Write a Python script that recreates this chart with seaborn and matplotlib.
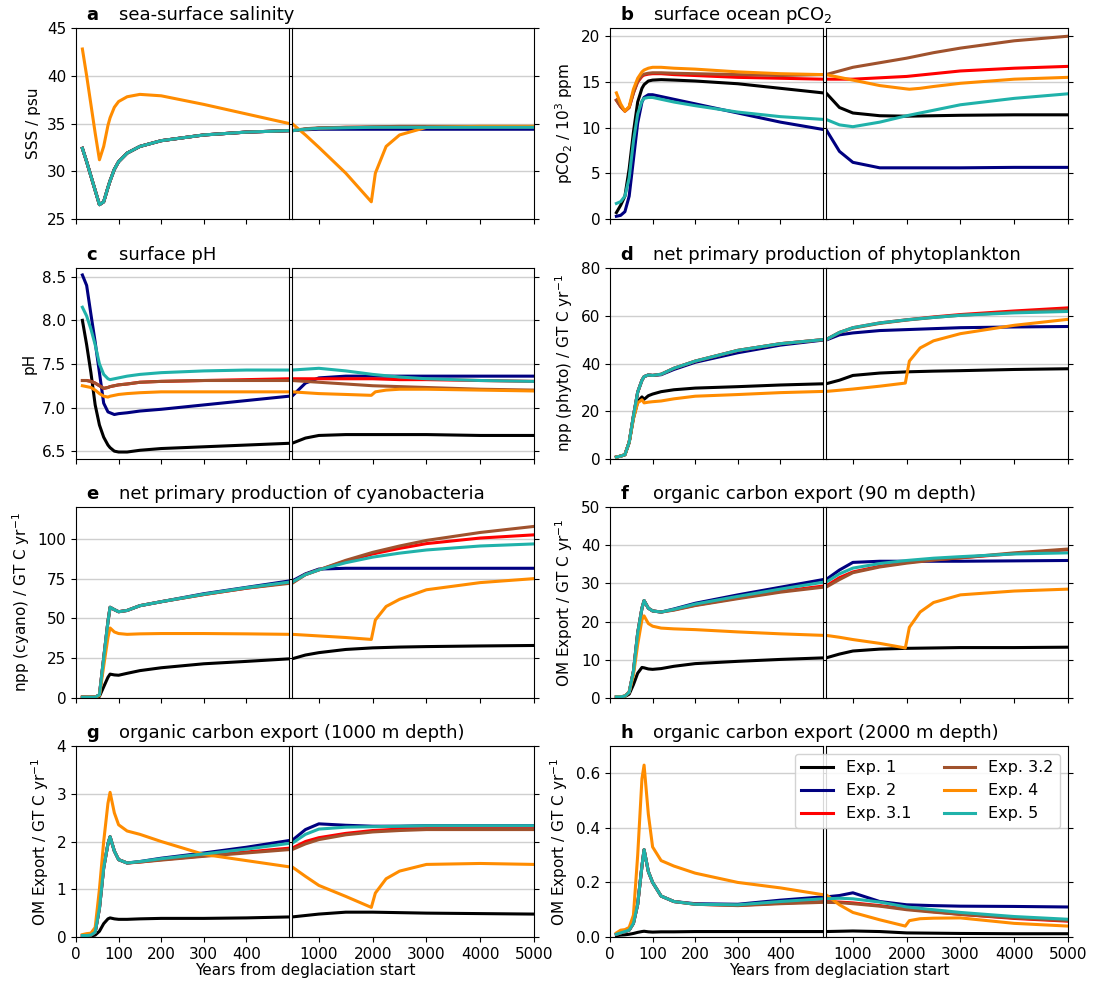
import matplotlib
matplotlib.use("Agg")
import matplotlib.pyplot as plt
import seaborn as sns

# time grids (years from deglaciation start)
t_main = [15, 25, 35, 45, 55, 65, 75, 80, 90, 100, 120, 150, 200, 300, 400, 500,
          750, 1000, 1500, 2000, 2500, 3000, 4000, 5000]
t_exp4 = [15, 25, 35, 45, 55, 65, 75, 80, 90, 100, 120, 150, 200, 300, 400, 500,
          750, 1000, 1500, 1975, 2050, 2250, 2500, 3000, 4000, 5000]

exp_labels = ["Exp. 1", "Exp. 2", "Exp. 3.1", "Exp. 3.2", "Exp. 4", "Exp. 5"]
exp_colors = ["black", "navy", "red", "sienna", "darkorange", "lightseagreen"]

# a) sea-surface salinity
sss_1 = [32.4, 31.0, 29.5, 28.0, 26.5, 26.8, 28.3, 29.0, 30.2, 31.0, 31.9, 32.6, 33.2, 33.8, 34.1, 34.25,
         34.4, 34.5, 34.55, 34.6, 34.6, 34.6, 34.6, 34.6]
sss_2 = [32.4, 31.0, 29.5, 28.0, 26.5, 26.8, 28.3, 29.0, 30.2, 31.0, 31.9, 32.6, 33.2, 33.8, 34.1, 34.25,
         34.35, 34.4, 34.4, 34.4, 34.4, 34.4, 34.4, 34.4]
sss_31 = [32.4, 31.0, 29.5, 28.0, 26.5, 26.8, 28.3, 29.0, 30.2, 31.0, 31.9, 32.6, 33.2, 33.8, 34.1, 34.25,
          34.4, 34.5, 34.6, 34.6, 34.65, 34.65, 34.65, 34.65]
sss_32 = [32.4, 31.0, 29.5, 28.0, 26.5, 26.8, 28.3, 29.0, 30.2, 31.0, 31.9, 32.6, 33.2, 33.8, 34.1, 34.25,
          34.45, 34.55, 34.6, 34.65, 34.7, 34.7, 34.7, 34.7]
sss_4 = [42.8, 40.0, 37.0, 34.0, 31.2, 32.6, 34.8, 35.6, 36.7, 37.3, 37.8, 38.05, 37.9, 37.0, 36.0, 35.0,
         33.8, 32.5, 29.8, 26.8, 29.8, 32.6, 33.8, 34.6, 34.7, 34.7]
sss_5 = [32.4, 31.0, 29.5, 28.0, 26.5, 26.8, 28.3, 29.0, 30.2, 31.0, 31.9, 32.6, 33.2, 33.8, 34.1, 34.25,
         34.4, 34.5, 34.55, 34.6, 34.6, 34.6, 34.6, 34.6]

# b) surface ocean pCO2 (10^3 ppm)
pco2_1 = [0.7, 1.5, 2.5, 5.5, 9.5, 12.8, 14.3, 14.7, 15.1, 15.2, 15.25, 15.2, 15.1, 14.8, 14.3, 13.8,
          12.2, 11.6, 11.3, 11.25, 11.3, 11.35, 11.4, 11.4]
pco2_2 = [0.3, 0.4, 0.8, 2.5, 6.5, 10.5, 12.8, 13.3, 13.6, 13.6, 13.4, 13.1, 12.6, 11.6, 10.6, 9.8,
          7.4, 6.2, 5.6, 5.6, 5.6, 5.6, 5.65, 5.65]
pco2_31 = [13.0, 12.3, 11.8, 12.2, 13.8, 15.0, 15.6, 15.75, 15.85, 15.9, 15.9, 15.8, 15.7, 15.5, 15.4, 15.3,
           15.3, 15.3, 15.45, 15.6, 15.9, 16.2, 16.5, 16.7]
pco2_32 = [13.0, 12.3, 11.8, 12.2, 13.8, 15.1, 15.7, 15.85, 15.95, 16.0, 16.0, 15.95, 15.9, 15.8, 15.7, 15.8,
           16.2, 16.6, 17.1, 17.6, 18.2, 18.7, 19.5, 20.0]
pco2_4 = [13.8, 12.6, 11.8, 12.3, 14.2, 15.4, 16.1, 16.3, 16.5, 16.6, 16.6, 16.5, 16.4, 16.1, 15.9, 15.8,
          15.5, 15.2, 14.6, 14.25, 14.2, 14.3, 14.5, 14.85, 15.3, 15.5]
pco2_5 = [1.7, 1.9, 2.5, 4.5, 8.5, 11.5, 12.9, 13.2, 13.3, 13.3, 13.1, 12.8, 12.4, 11.7, 11.2, 10.9,
          10.3, 10.1, 10.6, 11.3, 11.9, 12.5, 13.2, 13.7]

# c) surface pH
ph_1 = [8.0, 7.72, 7.4, 7.03, 6.8, 6.66, 6.57, 6.54, 6.5, 6.49, 6.49, 6.51, 6.53, 6.55, 6.57, 6.59,
        6.65, 6.68, 6.69, 6.69, 6.69, 6.69, 6.68, 6.68]
ph_2 = [8.52, 8.4, 8.07, 7.75, 7.4, 7.05, 6.95, 6.94, 6.92, 6.93, 6.94, 6.96, 6.98, 7.03, 7.08, 7.13,
        7.28, 7.34, 7.36, 7.36, 7.36, 7.36, 7.36, 7.36]
ph_31 = [7.31, 7.31, 7.30, 7.28, 7.25, 7.22, 7.23, 7.24, 7.25, 7.26, 7.27, 7.29, 7.30, 7.31, 7.32, 7.33,
         7.33, 7.33, 7.33, 7.33, 7.32, 7.32, 7.31, 7.30]
ph_32 = [7.31, 7.31, 7.30, 7.28, 7.25, 7.22, 7.23, 7.24, 7.25, 7.26, 7.27, 7.29, 7.30, 7.31, 7.31, 7.31,
         7.30, 7.29, 7.27, 7.25, 7.24, 7.23, 7.21, 7.20]
ph_4 = [7.25, 7.24, 7.23, 7.2, 7.16, 7.13, 7.12, 7.13, 7.14, 7.15, 7.16, 7.17, 7.18, 7.18, 7.18, 7.18,
        7.17, 7.16, 7.15, 7.14, 7.18, 7.2, 7.21, 7.21, 7.2, 7.19]
ph_5 = [8.15, 8.05, 7.9, 7.72, 7.5, 7.38, 7.33, 7.32, 7.33, 7.34, 7.36, 7.38, 7.40, 7.42, 7.43, 7.43,
        7.44, 7.45, 7.42, 7.38, 7.35, 7.33, 7.31, 7.30]

# d) npp phytoplankton (GT C / yr)
phy_1 = [0.8, 1.2, 1.8, 7, 17, 24, 26, 25, 26.5, 27.2, 28.2, 29, 29.7, 30.3, 31, 31.5,
         33, 35, 36, 36.5, 36.8, 37, 37.5, 37.8]
phy_2 = [0.8, 1.2, 1.8, 7, 18, 28, 33, 34.5, 35.2, 35, 35.3, 37.5, 40.5, 44.5, 47.7, 49.8,
         52, 52.8, 53.8, 54.2, 54.6, 55, 55.3, 55.5]
phy_31 = [0.8, 1.2, 1.8, 7, 18, 28, 33, 34.5, 35.2, 35, 35.5, 38, 41, 45.5, 48.3, 50,
          53, 55, 57, 58.3, 59.5, 60.5, 62, 63.3]
phy_32 = [0.8, 1.2, 1.8, 7, 18, 28, 33, 34.5, 35.2, 35, 35.5, 38, 41, 45.5, 48.3, 50,
          53, 54.8, 56.8, 58.2, 59.3, 60.2, 61.5, 62.5]
phy_4 = [0.8, 1.2, 1.8, 7, 17, 23.5, 24.8, 23.5, 23.8, 24, 24.3, 25.2, 26.3, 27, 27.8, 28.3,
         28.8, 29.3, 30.5, 31.8, 41, 46.5, 49.5, 52.5, 56, 58.5]
phy_5 = [0.8, 1.2, 1.8, 7, 18, 28, 33, 34.5, 35.2, 35, 35.5, 38, 41, 45.5, 48.3, 50,
         53, 55, 57, 58.3, 59.3, 60.2, 61.2, 61.8]

# e) npp cyanobacteria (GT C / yr)
cya_1 = [0.5, 0.5, 0.5, 0.5, 1, 7, 13, 15, 14.5, 14.3, 15.5, 17.2, 19, 21.5, 23, 24.6,
         27, 28.5, 30.5, 31.5, 32, 32.3, 32.7, 33]
cya_2 = [0.5, 0.5, 0.5, 0.5, 2, 25, 48, 57, 55.5, 54.2, 55, 58, 60.5, 65.5, 69.5, 73.5,
         78, 81, 81.5, 81.5, 81.5, 81.5, 81.5, 81.5]
cya_31 = [0.5, 0.5, 0.5, 0.5, 2, 25, 48, 57, 55.5, 54.2, 55, 58, 60.5, 65, 69, 72.5,
          77.5, 80.5, 86, 90.5, 94, 97, 100.5, 102.5]
cya_32 = [0.5, 0.5, 0.5, 0.5, 2, 25, 48, 57, 55.5, 54.2, 55, 58, 60.5, 65, 69, 72.0,
          77.5, 80.5, 86.5, 91.5, 95.5, 99, 104, 107.8]
cya_4 = [0.5, 0.5, 0.5, 0.5, 1.5, 20, 38, 44, 41.5, 40.5, 40, 40.3, 40.5, 40.5, 40.3, 40,
         39.5, 39, 38, 36.8, 49, 57.5, 62, 68, 72.5, 75]
cya_5 = [0.5, 0.5, 0.5, 0.5, 2, 25, 48, 57, 55.5, 54.2, 55, 58, 60.5, 65.2, 69.3, 72.8,
         77.5, 80.5, 85, 88.5, 91, 93, 95.5, 96.8]

# f) organic carbon export at 90 m
ex90_1 = [0.3, 0.3, 0.4, 1, 3.5, 6.5, 8, 7.9, 7.6, 7.5, 7.7, 8.3, 9.0, 9.6, 10.1, 10.5,
          11.5, 12.3, 12.8, 13, 13.1, 13.2, 13.2, 13.3]
ex90_2 = [0.3, 0.3, 0.5, 1.5, 7, 17, 23.5, 25.5, 23.5, 22.8, 22.5, 23.3, 24.8, 27, 29, 31,
          33.5, 35.5, 35.8, 35.8, 35.8, 35.8, 35.9, 36]
ex90_31 = [0.3, 0.3, 0.5, 1.5, 7, 17, 23.5, 25.5, 23.5, 22.8, 22.5, 23.1, 24.3, 26.2, 27.9, 29.3,
           31.5, 33, 34.5, 35.5, 36.2, 36.7, 37.8, 38.8]
ex90_32 = [0.3, 0.3, 0.5, 1.5, 7, 17, 23.5, 25.5, 23.5, 22.8, 22.5, 23.0, 24.2, 26.0, 27.7, 29.0,
           31, 32.8, 34.3, 35.3, 36.1, 36.7, 38, 39]
ex90_4 = [0.3, 0.3, 0.5, 1.5, 6, 14, 20.5, 21.5, 19.5, 18.8, 18.3, 18.1, 17.9, 17.3, 16.8, 16.4,
          15.9, 15.3, 14.3, 13.1, 18.5, 22.5, 25, 27, 28, 28.5]
ex90_5 = [0.3, 0.3, 0.5, 1.5, 7, 17, 23.5, 25.5, 23.5, 22.8, 22.5, 23.2, 24.6, 26.6, 28.5, 30.3,
          32.5, 34, 35.2, 36, 36.6, 37, 37.7, 38]

# g) organic carbon export at 1000 m
ex1000_1 = [0.02, 0.02, 0.02, 0.04, 0.12, 0.28, 0.38, 0.4, 0.38, 0.37, 0.37, 0.38, 0.39, 0.39, 0.40, 0.42,
            0.45, 0.48, 0.52, 0.52, 0.51, 0.5, 0.49, 0.48]
ex1000_2 = [0.03, 0.03, 0.04, 0.1, 0.6, 1.45, 1.95, 2.1, 1.8, 1.62, 1.55, 1.58, 1.65, 1.76, 1.88, 2.02,
            2.25, 2.37, 2.34, 2.32, 2.32, 2.33, 2.33, 2.33]
ex1000_31 = [0.03, 0.03, 0.04, 0.1, 0.6, 1.45, 1.95, 2.1, 1.8, 1.62, 1.55, 1.57, 1.62, 1.7, 1.78, 1.86,
             2.0, 2.08, 2.17, 2.23, 2.26, 2.27, 2.27, 2.27]
ex1000_32 = [0.03, 0.03, 0.04, 0.1, 0.6, 1.45, 1.95, 2.1, 1.8, 1.62, 1.55, 1.57, 1.61, 1.69, 1.76, 1.83,
             1.95, 2.04, 2.14, 2.2, 2.23, 2.25, 2.25, 2.25]
ex1000_4 = [0.05, 0.07, 0.08, 0.2, 1.0, 2.0, 2.8, 3.03, 2.6, 2.35, 2.22, 2.15, 2.0, 1.73, 1.6, 1.47,
            1.27, 1.08, 0.85, 0.62, 0.92, 1.22, 1.38, 1.52, 1.54, 1.52]
ex1000_5 = [0.03, 0.03, 0.04, 0.1, 0.6, 1.45, 1.95, 2.1, 1.8, 1.62, 1.55, 1.58, 1.64, 1.74, 1.84, 1.96,
            2.15, 2.26, 2.3, 2.31, 2.32, 2.33, 2.33, 2.33]

# h) organic carbon export at 2000 m
ex2000_1 = [0.005, 0.007, 0.008, 0.01, 0.013, 0.017, 0.02, 0.021, 0.019, 0.018, 0.019, 0.019, 0.02, 0.02, 0.02, 0.02,
            0.021, 0.022, 0.02, 0.015, 0.014, 0.013, 0.012, 0.012]
ex2000_2 = [0.01, 0.015, 0.02, 0.025, 0.05, 0.12, 0.26, 0.32, 0.24, 0.2, 0.15, 0.13, 0.122, 0.12, 0.135, 0.147,
            0.152, 0.162, 0.13, 0.118, 0.115, 0.113, 0.112, 0.11]
ex2000_31 = [0.01, 0.015, 0.02, 0.025, 0.05, 0.12, 0.26, 0.32, 0.24, 0.2, 0.15, 0.13, 0.12, 0.116, 0.124, 0.13,
             0.128, 0.125, 0.115, 0.103, 0.093, 0.083, 0.068, 0.058]
ex2000_32 = [0.01, 0.015, 0.02, 0.025, 0.05, 0.12, 0.26, 0.32, 0.24, 0.2, 0.15, 0.13, 0.12, 0.115, 0.122, 0.127,
             0.126, 0.122, 0.113, 0.1, 0.091, 0.083, 0.07, 0.06]
ex2000_4 = [0.015, 0.025, 0.027, 0.035, 0.08, 0.3, 0.58, 0.63, 0.45, 0.33, 0.28, 0.26, 0.234, 0.2, 0.18, 0.155,
            0.118, 0.09, 0.063, 0.04, 0.06, 0.067, 0.069, 0.07, 0.05, 0.04]
ex2000_5 = [0.01, 0.015, 0.02, 0.025, 0.05, 0.12, 0.26, 0.32, 0.24, 0.2, 0.15, 0.13, 0.12, 0.118, 0.13, 0.14,
            0.142, 0.14, 0.128, 0.11, 0.1, 0.09, 0.075, 0.065]

gt_unit = " / GT C yr$^{-1}$"
panels = [
    ("a", "sea-surface salinity", "SSS / psu", (25, 45), [25, 30, 35, 40, 45],
     [sss_1, sss_2, sss_31, sss_32, sss_4, sss_5]),
    ("b", "surface ocean pCO$_2$", "pCO$_2$ / 10$^3$ ppm", (0, 20.9), [0, 5, 10, 15, 20],
     [pco2_1, pco2_2, pco2_31, pco2_32, pco2_4, pco2_5]),
    ("c", "surface pH", "pH", (6.41, 8.6), [6.5, 7.0, 7.5, 8.0, 8.5],
     [ph_1, ph_2, ph_31, ph_32, ph_4, ph_5]),
    ("d", "net primary production of phytoplankton", "npp (phyto)" + gt_unit, (0, 80), [0, 20, 40, 60, 80],
     [phy_1, phy_2, phy_31, phy_32, phy_4, phy_5]),
    ("e", "net primary production of cyanobacteria", "npp (cyano)" + gt_unit, (0, 120), [0, 25, 50, 75, 100],
     [cya_1, cya_2, cya_31, cya_32, cya_4, cya_5]),
    ("f", "organic carbon export (90 m depth)", "OM Export" + gt_unit, (0, 50), [0, 10, 20, 30, 40, 50],
     [ex90_1, ex90_2, ex90_31, ex90_32, ex90_4, ex90_5]),
    ("g", "organic carbon export (1000 m depth)", "OM Export" + gt_unit, (0, 4), [0, 1, 2, 3, 4],
     [ex1000_1, ex1000_2, ex1000_31, ex1000_32, ex1000_4, ex1000_5]),
    ("h", "organic carbon export (2000 m depth)", "OM Export" + gt_unit, (0, 0.7), [0.0, 0.2, 0.4, 0.6],
     [ex2000_1, ex2000_2, ex2000_31, ex2000_32, ex2000_4, ex2000_5]),
]

plt.rcParams["font.size"] = 11
W, H = 1093, 983
fig = plt.figure(figsize=(W / 100, H / 100), dpi=100)

# pixel layout of the broken-axis panels
col_x = [76, 610]
row_top = [28, 268, 507, 746]
ph_h, w_left, gap, w_right = 191, 213, 3, 242

for i, (letter, title, ylabel, ylim, yticks, series) in enumerate(panels):
    row, col = divmod(i, 2)
    x0, top = col_x[col], row_top[row]
    bottom = 1 - (top + ph_h) / H
    axl = fig.add_axes([x0 / W, bottom, w_left / W, ph_h / H])
    axr = fig.add_axes([(x0 + w_left + gap) / W, bottom, w_right / W, ph_h / H])

    for ax in (axl, axr):
        for k, vals in enumerate(series):
            tt = t_exp4 if k == 4 else t_main
            sns.lineplot(x=tt, y=vals, ax=ax, color=exp_colors[k], lw=2.2)
        ax.set_ylim(*ylim)
        ax.set_yticks(yticks)
        ax.yaxis.grid(True, color="#cfcfcf", lw=1)
        ax.set_axisbelow(True)
        ax.set_xlabel("")
        ax.set_ylabel("")

    axl.set_xlim(0, 500)
    axl.set_xticks([0, 100, 200, 300, 400])
    axr.set_xlim(500, 5000)
    axr.set_xticks([1000, 2000, 3000, 4000, 5000])
    axl.tick_params(axis="y", right=True)
    axr.tick_params(axis="y", left=False, right=True, labelleft=False)
    if row < 3:
        axl.tick_params(axis="x", labelbottom=False)
        axr.tick_params(axis="x", labelbottom=False)
    else:
        fig.text((x0 + 229) / W, 1 - 970 / H, "Years from deglaciation start",
                 ha="center", va="center", fontsize=11)

    axl.set_ylabel(ylabel)
    axl.text(0.05, 1.04, letter, transform=axl.transAxes, fontsize=13,
             fontweight="bold", va="baseline")
    axl.text(0.2, 1.04, title, transform=axl.transAxes, fontsize=13, va="baseline")

    if letter == "h":
        handles = axr.get_lines()[:6]
        axr.legend(handles, exp_labels, ncol=2, loc="upper right", fontsize=11.5,
                   framealpha=0.85)

fig.savefig("out.png", dpi=100)
